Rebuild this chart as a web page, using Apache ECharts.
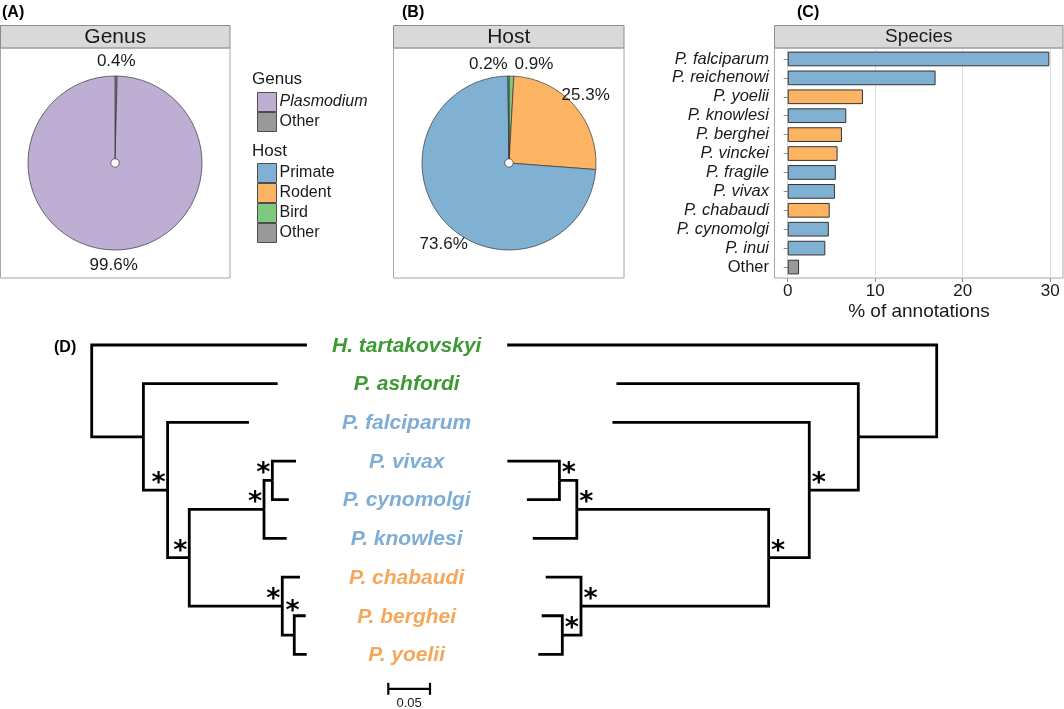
<!DOCTYPE html>
<html><head><meta charset="utf-8">
<script src="https://cdn.jsdelivr.net/npm/echarts/dist/echarts.min.js"></script>
<style>html,body{margin:0;padding:0;background:#fff}#c{width:1064px;height:709px}</style>
</head><body><div id="c"></div>
<script>
// ---------------- data ----------------
const genusNames = ['Other', 'Plasmodium'];
const genusValues = [0.4, 99.6];
const hostNames = ['Bird', 'Rodent', 'Primate', 'Other'];
const hostValues = [0.9, 25.3, 73.6, 0.2];
const speciesNames = ['P. falciparum', 'P. reichenowi', 'P. yoelii', 'P. knowlesi', 'P. berghei', 'P. vinckei',
  'P. fragile', 'P. vivax', 'P. chabaudi', 'P. cynomolgi', 'P. inui', 'Other'];
const speciesValues = [29.9, 16.9, 8.6, 6.7, 6.2, 5.7, 5.5, 5.4, 4.8, 4.7, 4.3, 1.3];
const speciesHosts = ['Primate', 'Primate', 'Rodent', 'Primate', 'Rodent', 'Rodent', 'Primate', 'Primate', 'Rodent', 'Primate', 'Primate', 'Other'];
const speciesTicks = [0, 10, 20, 30];
// phylogeny: tips 0-8, internal nodes 9 (root) .. 16
const tipNames = ['H. tartakovskyi', 'P. ashfordi', 'P. falciparum', 'P. vivax', 'P. cynomolgi', 'P. knowlesi', 'P. chabaudi', 'P. berghei', 'P. yoelii'];
const tipHosts = ['Bird', 'Bird', 'Primate', 'Primate', 'Primate', 'Primate', 'Rodent', 'Rodent', 'Rodent'];
const treeParent = [9, 10, 11, 14, 14, 13, 15, 16, 16, -1, 9, 10, 11, 12, 13, 12, 15];
const leftBranchLen = [0.258, 0.161, 0.0975, 0.0284, 0.0197, 0.0272, 0.0212, 0.0137, 0.0149, 0, 0.062, 0.029, 0.026, 0.0896, 0.010, 0.1115, 0.0144];
const rightBranchLen = [0.515, 0.290, 0.236, 0.0624, 0.039, 0.0528, 0.0423, 0.0247, 0.0288, 0, 0.094, 0.0588, 0.0487, 0.230, 0.0209, 0.225, 0.0224];
const supportedNodes = [11, 12, 13, 14, 15, 16];
const scaleBarValue = 0.05;

// ---------------- styling / layout ----------------
const FONT = '"Liberation Sans", Arial, Helvetica, sans-serif';
const hostColor = { Primate: '#80b1d3', Rodent: '#fdb462', Bird: '#7fc97f', Other: '#999999' };
const genusColor = { Plasmodium: '#beaed4', Other: '#999999' };
const tipColor = { Primate: '#7eadd5', Rodent: '#f5a75c', Bird: '#3d9a33' };
const PX_PER_UNIT = 834;           // tree scale
const TREE = { leftRoot: 91.7, rightRoot: 936.7, labelX: 406.7, scaleX: 388.3, scaleRow: 8.89 };
const starOffsetLeft = [-9, -11], starOffsetRight = [9.5, -11];
const starNudgeLeft = { 16: [7.4, -17] };

// ---------------- tree layout ----------------
function layoutTree(parent, blen, nTips) {
  const n = parent.length;
  const children = Array.from({ length: n }, () => []);
  let root = -1;
  parent.forEach((p, i) => { if (p < 0) root = i; else children[p].push(i); });
  const depth = new Array(n).fill(0), y = new Array(n).fill(0);
  (function setDepth(i, d) { depth[i] = d; children[i].forEach(c => setDepth(c, d + blen[c])); })(root, 0);
  (function setY(i) {
    if (i < nTips) { y[i] = i; return i; }
    const ys = children[i].map(setY);
    y[i] = (Math.min(...ys) + Math.max(...ys)) / 2; return y[i];
  })(root);
  return { depth, y, root };
}
function treeData(blen, rootPx, dir) {
  const L = layoutTree(treeParent, blen, tipNames.length);
  const rootU = rootPx / PX_PER_UNIT;
  const xOf = i => rootU + dir * L.depth[i];
  const edges = [];
  treeParent.forEach((p, c) => { if (p >= 0) edges.push([xOf(p), L.y[p], L.y[c], xOf(c)]); });
  const stars = supportedNodes.map(k => [xOf(k), L.y[k], k]);
  return { edges, stars };
}
const leftTree = treeData(leftBranchLen, TREE.leftRoot, 1);
const rightTree = treeData(rightBranchLen, TREE.rightRoot, -1);

function edgeRender(params, api) {
  const a = api.coord([api.value(0), api.value(1)]);
  const b = api.coord([api.value(0), api.value(2)]);
  const c = api.coord([api.value(3), api.value(2)]);
  return { type: 'polyline', shape: { points: [a, b, c] },
    style: { stroke: '#000', lineWidth: 2.8, fill: null, lineJoin: 'miter', lineCap: 'butt' } };
}
function starRender(off, nudge) {
  return function (params, api) {
    const p = api.coord([api.value(0), api.value(1)]);
    const k = api.value(2);
    const nd = nudge[k] || [0, 0];
    return { type: 'text', x: p[0] + off[0] + nd[0], y: p[1] + off[1] + nd[1] + 5,
      style: { text: '*', fontSize: 27, fontWeight: 'bold', fontFamily: '"DejaVu Sans", sans-serif', fill: '#000', align: 'center', verticalAlign: 'middle' } };
  };
}

// ---------------- pies ----------------
function pieLabelLayout(values, cx, cy, R, nudges) {
  const total = values.reduce((a, b) => a + b, 0);
  return function (p) {
    const i = p.dataIndex;
    let before = 0; for (let k = 0; k < i; k++) before += values[k];
    const ang = (before + values[i] / 2) / total * 2 * Math.PI;
    const nd = nudges[i] || [0, 0];
    return { x: cx + R * Math.sin(ang) + nd[0], y: cy - R * Math.cos(ang) + nd[1], align: 'center', verticalAlign: 'middle' };
  };
}
function pieSeries(names, values, colors, cx, nudges) {
  return {
    type: 'pie', center: [cx, 163], radius: [4.2, 87], startAngle: 90, clockwise: true,
    silent: true, animation: false, avoidLabelOverlap: false,
    data: names.map((n, i) => ({ name: n, value: values[i], itemStyle: { color: colors[n] } })),
    itemStyle: { borderColor: '#333', borderWidth: 0.7 },
    label: { show: true, formatter: p => p.value.toFixed(1) + '%', fontSize: 17, color: '#1a1a1a', fontFamily: FONT },
    labelLine: { show: false },
    labelLayout: pieLabelLayout(values, cx, 163, 102, nudges),
    emphasis: { disabled: true }
  };
}

// ---------------- chrome (strips, frames, panel tags) ----------------
const stripStyle = { fill: '#d9d9d9', stroke: '#8c8c8c', lineWidth: 1 };
const frameStyle = { fill: null, stroke: '#a6a6a6', lineWidth: 1 };
function strip(x, w, label, size) {
  return [
    { type: 'rect', shape: { x: x, y: 25.5, width: w, height: 22.5 }, style: stripStyle, z: 1 },
    { type: 'text', x: x + w / 2, y: 37, style: { text: label, fontSize: size, fill: '#1a1a1a', align: 'center', verticalAlign: 'middle', fontFamily: FONT }, z: 2 },
    { type: 'rect', shape: { x: x, y: 48, width: w, height: 230 }, style: frameStyle, z: 1 }
  ];
}
function tag(x, y, t) {
  return { type: 'text', x: x, y: y, style: { text: t, fontSize: 16, fontWeight: 'bold', fill: '#000', verticalAlign: 'middle', fontFamily: FONT }, z: 3 };
}
const graphics = [].concat(
  strip(0.5, 229.5, 'Genus', 21), strip(393.5, 230.5, 'Host', 21), strip(774.5, 288.5, 'Species', 19),
  [tag(2, 13, '(A)'), tag(402, 13, '(B)'), tag(797, 13, '(C)'), tag(54, 348, '(D)'),
   { type: 'text', x: 252, y: 79, style: { text: 'Genus', fontSize: 17, fill: '#1a1a1a', verticalAlign: 'middle', fontFamily: FONT } },
   { type: 'text', x: 252, y: 151, style: { text: 'Host', fontSize: 17, fill: '#1a1a1a', verticalAlign: 'middle', fontFamily: FONT } }]
);

const legendCommon = {
  orient: 'vertical', left: 252, itemWidth: 19, itemHeight: 19, itemGap: 0, selectedMode: false,
  icon: 'rect', itemStyle: { borderColor: '#4d4d4d', borderWidth: 1 },
  textStyle: { fontSize: 16, color: '#1a1a1a', fontFamily: FONT, padding: [0, 0, 0, -2], rich: { it: { fontStyle: 'italic', fontSize: 16, color: '#1a1a1a', fontFamily: FONT } } },
  formatter: n => n === 'Plasmodium' ? '{it|Plasmodium}' : n
};

const option = {
  animation: false,
  textStyle: { fontFamily: FONT },
  graphic: graphics,
  legend: [
    Object.assign({}, legendCommon, { top: 87, data: ['Plasmodium', 'Other'] }),
    Object.assign({}, legendCommon, { top: 158, data: ['Primate', 'Rodent', 'Bird', 'Other'] })
  ],
  grid: [
    { left: 787.7, top: 49.5, width: 262.5, height: 227 },
    { left: 0, top: 345, width: 1064, height: 309.4 }
  ],
  xAxis: [
    { gridIndex: 0, type: 'value', min: speciesTicks[0], max: speciesTicks[speciesTicks.length - 1], interval: 10, offset: 1.5,
      axisLine: { show: false }, axisTick: { show: true, length: 4, lineStyle: { color: '#8c8c8c' } },
      splitLine: { show: true, lineStyle: { color: '#dedede', width: 1 } },
      axisLabel: { fontSize: 17, color: '#1a1a1a', margin: 5 },
      name: '% of annotations', nameLocation: 'middle', nameGap: 24, nameTextStyle: { fontSize: 19, color: '#1a1a1a', verticalAlign: 'top' } },
    { gridIndex: 1, type: 'value', min: 0, max: 1064 / PX_PER_UNIT, show: false }
  ],
  yAxis: [
    { gridIndex: 0, type: 'category', data: speciesNames, inverse: true, offset: 13.7,
      axisLine: { show: false }, axisTick: { show: true, length: 4, alignWithLabel: true, lineStyle: { color: '#8c8c8c' } },
      axisLabel: { fontSize: 16.5, color: '#1a1a1a', margin: 5, interval: 0,
        formatter: v => v === 'Other' ? v : '{i|' + v + '}',
        rich: { i: { fontStyle: 'italic', fontSize: 16.5, color: '#1a1a1a', fontFamily: FONT } } } },
    { gridIndex: 1, type: 'value', min: 0, max: 8, inverse: true, show: false }
  ],
  series: [
    pieSeries(genusNames, genusValues, genusColor, 115, {}),
    pieSeries(hostNames, hostValues, hostColor, 509, { 0: [22, 3], 2: [9, 11], 3: [-20, 3] }),
    { type: 'bar', xAxisIndex: 0, yAxisIndex: 0, barWidth: 14.7, silent: true,
      data: speciesValues.map((v, i) => ({ value: v, itemStyle: { color: hostColor[speciesHosts[i]] } })),
      itemStyle: { borderColor: '#333', borderWidth: 1 } },
    { type: 'custom', xAxisIndex: 1, yAxisIndex: 1, silent: true, renderItem: edgeRender, data: leftTree.edges },
    { type: 'custom', xAxisIndex: 1, yAxisIndex: 1, silent: true, renderItem: edgeRender, data: rightTree.edges },
    { type: 'custom', xAxisIndex: 1, yAxisIndex: 1, silent: true, renderItem: starRender(starOffsetLeft, starNudgeLeft), data: leftTree.stars },
    { type: 'custom', xAxisIndex: 1, yAxisIndex: 1, silent: true, renderItem: starRender(starOffsetRight, {}), data: rightTree.stars },
    { type: 'custom', xAxisIndex: 1, yAxisIndex: 1, silent: true,
      data: tipNames.map((n, i) => [TREE.labelX / PX_PER_UNIT, i, n, tipHosts[i]]),
      renderItem: (params, api) => {
        const p = api.coord([api.value(0), api.value(1)]);
        const i = params.dataIndex;
        return { type: 'text', x: p[0], y: p[1] + 1,
          style: { text: tipNames[i], fontSize: 21, fontWeight: 'bold', fontStyle: 'italic', fontFamily: FONT, fill: tipColor[tipHosts[i]], align: 'center', verticalAlign: 'middle' } };
      } },
    { type: 'custom', xAxisIndex: 1, yAxisIndex: 1, silent: true,
      data: [[TREE.scaleX / PX_PER_UNIT, TREE.scaleX / PX_PER_UNIT + scaleBarValue, TREE.scaleRow]],
      renderItem: (params, api) => {
        const a = api.coord([api.value(0), api.value(2)]);
        const b = api.coord([api.value(1), api.value(2)]);
        const st = { stroke: '#000', lineWidth: 2.2 };
        return { type: 'group', children: [
          { type: 'line', shape: { x1: a[0], y1: a[1], x2: b[0], y2: b[1] }, style: st },
          { type: 'line', shape: { x1: a[0], y1: a[1] - 6, x2: a[0], y2: a[1] + 6 }, style: st },
          { type: 'line', shape: { x1: b[0], y1: b[1] - 6, x2: b[0], y2: b[1] + 6 }, style: st },
          { type: 'text', x: (a[0] + b[0]) / 2, y: a[1] + 15, style: { text: String(scaleBarValue), fontSize: 13, fill: '#1a1a1a', align: 'center', verticalAlign: 'middle', fontFamily: FONT } }
        ] };
      } }
  ]
};
const chart = echarts.init(document.getElementById('c'), null, { renderer: 'canvas' });
chart.setOption(option);
</script>
</body></html>
